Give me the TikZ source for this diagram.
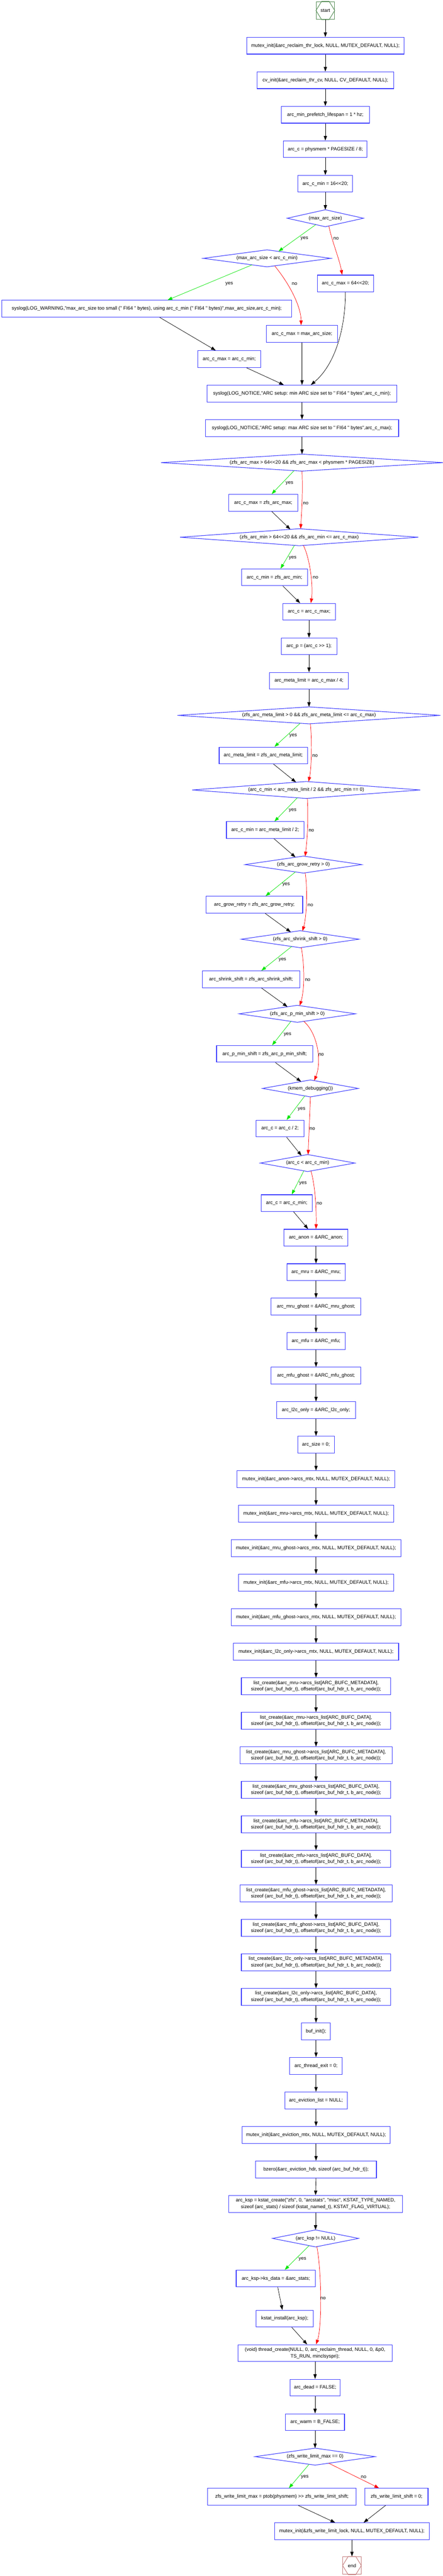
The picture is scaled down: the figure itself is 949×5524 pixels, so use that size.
\documentclass[tikz,border=0pt]{standalone}
\usepackage{fontspec}
\setmainfont{Liberation Sans}[Ligatures=TeXOff]
\usetikzlibrary{calc,arrows.meta}
\definecolor{boxblue}{RGB}{60,60,255}
\definecolor{yesgreen}{RGB}{0,230,0}
\definecolor{nored}{RGB}{255,0,0}
\definecolor{startgreen}{RGB}{85,140,85}
\definecolor{endrose}{RGB}{195,125,125}
\newcommand\gvfont{\fontsize{10.4}{14}\selectfont}
\tikzset{
  box/.style={draw=boxblue, line width=1.2pt, minimum height=36pt, inner xsep=8pt, inner ysep=2pt, font=\gvfont, align=center},
  dnode/.style={minimum height=36pt, inner sep=0pt, font=\gvfont},
  dborder/.style={draw=boxblue, line width=1.2pt},
  conn/.style={-{Triangle[length=10pt,width=7pt]}, line width=0.8pt, black},
  yesedge/.style={conn, yesgreen},
  noedge/.style={conn, nored},
  elab/.style={font=\gvfont, inner sep=0pt},
  termbox/.style={line width=1.1pt, minimum width=39pt, minimum height=38pt, inner sep=0pt, font=\gvfont},
}
\begin{document}
\begin{tikzpicture}[x=1pt, y=-1pt]
\fill[white] (0,0) rectangle (949,5524);
\useasboundingbox (0,0) rectangle (949,5524);

% ---------- nodes ----------
\node[termbox, draw=startgreen] (n0) at (697,22.5) {start};
\node[box, minimum width=337pt] (n1) at (697,98) {mutex\_init(\&arc\_reclaim\_thr\_lock, NULL, MUTEX\_DEFAULT, NULL);};
\node[box, minimum width=293pt] (n2) at (697,172) {cv\_init(\&arc\_reclaim\_thr\_cv, NULL, CV\_DEFAULT, NULL);};
\node[box, minimum width=189pt] (n3) at (697,246) {arc\_min\_prefetch\_lifespan = 1 * hz;};
\node[box, minimum width=179pt] (n4) at (697,320) {arc\_c = physmem * PAGESIZE / 8;};
\node[box, minimum width=117pt] (n5) at (697,394) {arc\_c\_min = 16<<20;};
\node[dnode, minimum width=163pt] (d1) at (697,468) {(max\_arc\_size)};
\node[dnode, minimum width=273pt] (d2) at (572,554) {(max\_arc\_size < arc\_c\_min)};
\node[box, minimum width=121pt] (n6) at (740,608) {arc\_c\_max = 64<<20;};
\node[box, minimum width=621pt] (n7) at (314.5,662) {syslog(LOG\_WARNING,"max\_arc\_size too small (" FI64 " bytes), using arc\_c\_min (" FI64 " bytes)",max\_arc\_size,arc\_c\_min);};
\node[box, minimum width=153pt] (n8) at (647,716) {arc\_c\_max = max\_arc\_size;};
\node[box, minimum width=134pt] (n9) at (491,770) {arc\_c\_max = arc\_c\_min;};
\node[box, minimum width=406pt] (n10) at (647,844) {syslog(LOG\_NOTICE,"ARC setup: min ARC size set to " FI64 " bytes",arc\_c\_min);};
\node[box, minimum width=414pt] (n11) at (647,918) {syslog(LOG\_NOTICE,"ARC setup: max ARC size set to " FI64 " bytes",arc\_c\_max);};
\node[dnode, minimum width=604pt] (d3) at (647,992) {(zfs\_arc\_max > 64<<20 \&\& zfs\_arc\_max < physmem * PAGESIZE)};
\node[box, minimum width=149pt] (n12) at (564,1078) {arc\_c\_max = zfs\_arc\_max;};
\node[dnode, minimum width=510pt] (d4) at (641,1152) {(zfs\_arc\_min > 64<<20 \&\& zfs\_arc\_min <= arc\_c\_max)};
\node[box, minimum width=141pt] (n13) at (588,1238) {arc\_c\_min = zfs\_arc\_min;};
\node[box, minimum width=113pt] (n14) at (662,1312) {arc\_c = arc\_c\_max;};
\node[box, minimum width=119pt] (n15) at (662,1386) {arc\_p = (arc\_c >> 1);};
\node[box, minimum width=169pt] (n16) at (662,1460) {arc\_meta\_limit = arc\_c\_max / 4;};
\node[dnode, minimum width=563pt] (d5) at (662,1534) {(zfs\_arc\_meta\_limit > 0 \&\& zfs\_arc\_meta\_limit <= arc\_c\_max)};
\node[box, minimum width=189pt] (n17) at (564,1620) {arc\_meta\_limit = zfs\_arc\_meta\_limit;};
\node[dnode, minimum width=488pt] (d6) at (656,1694) {(arc\_c\_min < arc\_meta\_limit / 2 \&\& zfs\_arc\_min == 0)};
\node[box, minimum width=166pt] (n18) at (568,1780) {arc\_c\_min = arc\_meta\_limit / 2;};
\node[dnode, minimum width=250pt] (d7) at (650,1854) {(zfs\_arc\_grow\_retry > 0)};
\node[box, minimum width=207pt] (n19) at (545,1940) {arc\_grow\_retry = zfs\_arc\_grow\_retry;};
\node[dnode, minimum width=252pt] (d8) at (643,2014) {(zfs\_arc\_shrink\_shift > 0)};
\node[box, minimum width=209pt] (n20) at (538,2100) {arc\_shrink\_shift = zfs\_arc\_shrink\_shift;};
\node[dnode, minimum width=249pt] (d9) at (637,2174) {(zfs\_arc\_p\_min\_shift > 0)};
\node[box, minimum width=206pt] (n21) at (567,2260) {arc\_p\_min\_shift = zfs\_arc\_p\_min\_shift;};
\node[dnode, minimum width=205pt] (d10) at (665,2334) {(kmem\_debugging())};
\node[box, minimum width=102pt] (n22) at (600,2420) {arc\_c = arc\_c / 2;};
\node[dnode, minimum width=202pt] (d11) at (659,2494) {(arc\_c < arc\_c\_min)};
\node[box, minimum width=109pt] (n23) at (614,2580) {arc\_c = arc\_c\_min;};
\node[box, minimum width=137pt] (n24) at (677,2654) {arc\_anon = \&ARC\_anon;};
\node[box, minimum width=125pt] (n25) at (677,2728) {arc\_mru = \&ARC\_mru;};
\node[box, minimum width=192pt] (n26) at (677,2802) {arc\_mru\_ghost = \&ARC\_mru\_ghost;};
\node[box, minimum width=125pt] (n27) at (677,2876) {arc\_mfu = \&ARC\_mfu;};
\node[box, minimum width=192pt] (n28) at (677,2950) {arc\_mfu\_ghost = \&ARC\_mfu\_ghost;};
\node[box, minimum width=169pt] (n29) at (677,3024) {arc\_l2c\_only = \&ARC\_l2c\_only;};
\node[box, minimum width=78pt] (n30) at (677,3098) {arc\_size = 0;};
\node[box, minimum width=338pt] (n31) at (677,3172) {mutex\_init(\&arc\_anon->arcs\_mtx, NULL, MUTEX\_DEFAULT, NULL);};
\node[box, minimum width=332pt] (n32) at (677,3246) {mutex\_init(\&arc\_mru->arcs\_mtx, NULL, MUTEX\_DEFAULT, NULL);};
\node[box, minimum width=364pt] (n33) at (677,3320) {mutex\_init(\&arc\_mru\_ghost->arcs\_mtx, NULL, MUTEX\_DEFAULT, NULL);};
\node[box, minimum width=332pt] (n34) at (677,3394) {mutex\_init(\&arc\_mfu->arcs\_mtx, NULL, MUTEX\_DEFAULT, NULL);};
\node[box, minimum width=364pt] (n35) at (677,3468) {mutex\_init(\&arc\_mfu\_ghost->arcs\_mtx, NULL, MUTEX\_DEFAULT, NULL);};
\node[box, minimum width=354pt] (n36) at (677,3542) {mutex\_init(\&arc\_l2c\_only->arcs\_mtx, NULL, MUTEX\_DEFAULT, NULL);};
\node[box, minimum width=320pt] (n37) at (677,3616) {list\_create(\&arc\_mru->arcs\_list[ARC\_BUFC\_METADATA],\\sizeof (arc\_buf\_hdr\_t), offsetof(arc\_buf\_hdr\_t, b\_arc\_node));};
\node[box, minimum width=320pt] (n38) at (677,3690) {list\_create(\&arc\_mru->arcs\_list[ARC\_BUFC\_DATA],\\sizeof (arc\_buf\_hdr\_t), offsetof(arc\_buf\_hdr\_t, b\_arc\_node));};
\node[box, minimum width=326pt] (n39) at (677,3764) {list\_create(\&arc\_mru\_ghost->arcs\_list[ARC\_BUFC\_METADATA],\\sizeof (arc\_buf\_hdr\_t), offsetof(arc\_buf\_hdr\_t, b\_arc\_node));};
\node[box, minimum width=320pt] (n40) at (677,3838) {list\_create(\&arc\_mru\_ghost->arcs\_list[ARC\_BUFC\_DATA],\\sizeof (arc\_buf\_hdr\_t), offsetof(arc\_buf\_hdr\_t, b\_arc\_node));};
\node[box, minimum width=320pt] (n41) at (677,3912) {list\_create(\&arc\_mfu->arcs\_list[ARC\_BUFC\_METADATA],\\sizeof (arc\_buf\_hdr\_t), offsetof(arc\_buf\_hdr\_t, b\_arc\_node));};
\node[box, minimum width=320pt] (n42) at (677,3986) {list\_create(\&arc\_mfu->arcs\_list[ARC\_BUFC\_DATA],\\sizeof (arc\_buf\_hdr\_t), offsetof(arc\_buf\_hdr\_t, b\_arc\_node));};
\node[box, minimum width=326pt] (n43) at (677,4060) {list\_create(\&arc\_mfu\_ghost->arcs\_list[ARC\_BUFC\_METADATA],\\sizeof (arc\_buf\_hdr\_t), offsetof(arc\_buf\_hdr\_t, b\_arc\_node));};
\node[box, minimum width=320pt] (n44) at (677,4134) {list\_create(\&arc\_mfu\_ghost->arcs\_list[ARC\_BUFC\_DATA],\\sizeof (arc\_buf\_hdr\_t), offsetof(arc\_buf\_hdr\_t, b\_arc\_node));};
\node[box, minimum width=320pt] (n45) at (677,4208) {list\_create(\&arc\_l2c\_only->arcs\_list[ARC\_BUFC\_METADATA],\\sizeof (arc\_buf\_hdr\_t), offsetof(arc\_buf\_hdr\_t, b\_arc\_node));};
\node[box, minimum width=320pt] (n46) at (677,4282) {list\_create(\&arc\_l2c\_only->arcs\_list[ARC\_BUFC\_DATA],\\sizeof (arc\_buf\_hdr\_t), offsetof(arc\_buf\_hdr\_t, b\_arc\_node));};
\node[box, minimum width=62pt] (n47) at (677,4356) {buf\_init();};
\node[box, minimum width=113pt] (n48) at (677,4430) {arc\_thread\_exit = 0;};
\node[box, minimum width=134pt] (n49) at (677,4504) {arc\_eviction\_list = NULL;};
\node[box, minimum width=317pt] (n50) at (677,4578) {mutex\_init(\&arc\_eviction\_mtx, NULL, MUTEX\_DEFAULT, NULL);};
\node[box, minimum width=259pt] (n51) at (677,4652) {bzero(\&arc\_eviction\_hdr, sizeof (arc\_buf\_hdr\_t));};
\node[box, minimum width=373pt] (n52) at (676,4726) {arc\_ksp = kstat\_create("zfs", 0, "arcstats", "misc", KSTAT\_TYPE\_NAMED,\\sizeof (arc\_stats) / sizeof (kstat\_named\_t), KSTAT\_FLAG\_VIRTUAL);};
\node[dnode, minimum width=184pt] (d12) at (676,4800) {(arc\_ksp != NULL)};
\node[box, minimum width=170pt] (n53) at (591,4886) {arc\_ksp->ks\_data = \&arc\_stats;};
\node[box, minimum width=123pt] (n54) at (610,4972) {kstat\_install(arc\_ksp);};
\node[box, minimum width=330pt] (n55) at (675,5046) {(void) thread\_create(NULL, 0, arc\_reclaim\_thread, NULL, 0, \&p0,\\TS\_RUN, minclsyspri);};
\node[box, minimum width=108pt] (n56) at (675,5120) {arc\_dead = FALSE;};
\node[box, minimum width=126pt] (n57) at (675,5194) {arc\_warm = B\_FALSE;};
\node[dnode, minimum width=257pt] (d13) at (675,5268) {(zfs\_write\_limit\_max == 0)};
\node[box, minimum width=318pt] (n58) at (604,5354) {zfs\_write\_limit\_max = ptob(physmem) >> zfs\_write\_limit\_shift;};
\node[box, minimum width=135pt] (n59) at (849.5,5354) {zfs\_write\_limit\_shift = 0;};
\node[box, minimum width=331pt] (n60) at (754,5428) {mutex\_init(\&zfs\_write\_limit\_lock, NULL, MUTEX\_DEFAULT, NULL);};
\node[termbox, draw=endrose] (n61) at (754,5501.5) {end};

% hexagon marks of the terminal nodes
\draw[startgreen, line width=1.1pt] ($(n0.north west)+(12,0)$) -- ($(n0.north east)+(-12,0)$) -- (n0.east) -- ($(n0.south east)+(-12,0)$) -- ($(n0.south west)+(12,0)$) -- (n0.west) -- cycle;
\draw[endrose, line width=1.1pt] ($(n61.north west)+(12,0)$) -- ($(n61.north east)+(-12,0)$) -- (n61.east) -- ($(n61.south east)+(-12,0)$) -- ($(n61.south west)+(12,0)$) -- (n61.west) -- cycle;

% diamonds
\foreach \d in {d1,d2,d3,d4,d5,d6,d7,d8,d9,d10,d11,d12,d13}
  \draw[dborder] (\d.north) -- (\d.east) -- (\d.south) -- (\d.west) -- cycle;

% ---------- straight connectors ----------
\draw[conn] (n0) -- (n1);
\draw[conn] (n1) -- (n2);
\draw[conn] (n2) -- (n3);
\draw[conn] (n3) -- (n4);
\draw[conn] (n4) -- (n5);
\draw[conn] (n5) -- (d1.north);
\draw[conn] (n8) -- (n10);
\draw[conn] (n10) -- (n11);
\draw[conn] (n11) -- (d3.north);
\draw[conn] (n14) -- (n15);
\draw[conn] (n15) -- (n16);
\draw[conn] (n16) -- (d5.north);
\foreach \a/\b in {n24/n25,n25/n26,n26/n27,n27/n28,n28/n29,n29/n30,n30/n31,n31/n32,n32/n33,n33/n34,n34/n35,n35/n36,n36/n37,n37/n38,n38/n39,n39/n40,n40/n41,n41/n42,n42/n43,n43/n44,n44/n45,n45/n46,n46/n47,n47/n48,n48/n49,n49/n50,n50/n51,n51/n52,n55/n56,n56/n57}
  \draw[conn] (\a.south) -- (\b.north);
\draw[conn] (n52.south) -- (d12.north);
\draw[conn] (n57.south) -- (d13.north);
\draw[conn] (n60.south) -- (n61.north);

% ---------- branch connectors ----------
\draw[yesedge] ($(d1.south)!0.25!(d1.west)$) -- ($(d2.north)!0.18!(d2.east)$);
\draw[noedge] ($(d1.south)!0.09!(d1.east)$) .. controls (712,520) and (727,555) .. ($(n6.north)+(-7,0)$);
\draw[yesedge] ($(d2.south)!0.234!(d2.west)$) -- ($(n7.north)+(44.5,0)$);
\draw[noedge] ($(d2.south)!0.12!(d2.east)$) .. controls (624,614) and (645,660) .. ($(n8.north)+(-2,0)$);
\draw[conn] ($(n7.south)+(27.5,0)$) -- ($(n9.north)+(-29,0)$);
\draw[conn] ($(n9.south)+(37,0)$) -- ($(n10.north)+(-39,0)$);
\draw[conn] (n6.south) .. controls (740,700) and (720,780) .. ($(n10.north)+(19,0)$);

\draw[yesedge] ($(d3.south)!0.056!(d3.west)$) -- ($(n12.north)+(18,0)$);
\draw[noedge] (d3.south) .. controls (649,1060) and (646,1100) .. ($(d4.north)!0.012!(d4.east)$);
\draw[conn] ($(n12.south)+(18,0)$) -- ($(d4.north)!0.075!(d4.west)$);
\draw[yesedge] ($(d4.south)!0.04!(d4.west)$) -- ($(n13.north)+(13,0)$);
\draw[noedge] ($(d4.south)!0.035!(d4.east)$) .. controls (665,1200) and (671,1260) .. ($(n14.north)+(4,0)$);
\draw[conn] ($(n13.south)+(18,0)$) -- ($(n14.north)+(-19,0)$);

\draw[yesedge] ($(d5.south)!0.067!(d5.west)$) -- ($(n17.north)+(24,0)$);
\draw[noedge] ($(d5.south)!0.01!(d5.east)$) .. controls (669,1590) and (667,1650) .. ($(d6.north)!0.02!(d6.east)$);
\draw[conn] ($(n17.south)+(22,0)$) -- ($(d6.north)!0.09!(d6.west)$);
\draw[yesedge] ($(d6.south)!0.078!(d6.west)$) -- ($(n18.north)+(20,0)$);
\draw[noedge] ($(d6.south)!0.01!(d6.east)$) .. controls (661,1760) and (658,1800) .. ($(d7.north)!0.03!(d7.east)$);
\draw[conn] ($(n18.south)+(19,0)$) -- ($(d7.north)!0.136!(d7.west)$);

\draw[yesedge] ($(d7.south)!0.136!(d7.west)$) -- ($(n19.north)+(24,0)$);
\draw[noedge] ($(d7.south)!0.03!(d7.east)$) .. controls (659,1905) and (657,1965) .. ($(d8.north)!0.04!(d8.east)$);
\draw[conn] ($(n19.south)+(23,0)$) -- ($(d8.north)!0.16!(d8.west)$);
\draw[yesedge] ($(d8.south)!0.143!(d8.west)$) -- ($(n20.north)+(22,0)$);
\draw[noedge] ($(d8.south)!0.02!(d8.east)$) .. controls (653,2075) and (652,2125) .. ($(d9.north)!0.04!(d9.east)$);
\draw[conn] ($(n20.south)+(22,0)$) -- ($(d9.north)!0.17!(d9.west)$);
\draw[yesedge] ($(d9.south)!0.11!(d9.west)$) -- ($(n21.north)+(16,0)$);
\draw[noedge] ($(d9.south)!0.11!(d9.east)$) .. controls (680,2215) and (690,2275) .. ($(d10.north)!0.08!(d10.east)$);
\draw[conn] ($(n21.south)+(23,0)$) -- ($(d10.north)!0.195!(d10.west)$);
\draw[yesedge] ($(d10.south)!0.117!(d10.west)$) -- ($(n22.north)+(14,0)$);
\draw[noedge] (d10.south) -- ($(d11.north)!0.01!(d11.east)$);
\draw[conn] ($(n22.south)+(14,0)$) -- ($(d11.north)!0.13!(d11.west)$);
\draw[yesedge] ($(d11.south)!0.08!(d11.west)$) -- ($(n23.north)+(11,0)$);
\draw[noedge] ($(d11.south)!0.07!(d11.east)$) .. controls (676,2545) and (678,2600) .. (n24.north);
\draw[conn] ($(n23.south)+(15,0)$) -- ($(n24.north)+(-17,0)$);

\draw[yesedge] ($(d12.south)!0.15!(d12.west)$) -- ($(n53.north)+(19,0)$);
\draw[noedge] ($(d12.south)!0.03!(d12.east)$) .. controls (689,4870) and (690,4990) .. ($(n55.north)+(2,0)$);
\draw[conn] ($(n53.south)+(4,0)$) -- ($(n54.north)+(-5,0)$);
\draw[conn] ($(n54.south)+(15,0)$) -- ($(n55.north)+(-17,0)$);

\draw[yesedge] ($(d13.south)!0.1!(d13.west)$) -- ($(n58.north)+(15,0)$);
\draw[noedge] ($(d13.south)!0.226!(d13.east)$) -- ($(n59.north)+(-37.5,0)$);
\draw[conn] ($(n58.south)+(35,0)$) -- ($(n60.north)+(-36,0)$);
\draw[conn] ($(n59.south)+(-23.5,0)$) -- ($(n60.north)+(25,0)$);

% ---------- edge labels ----------
\node[elab] (l1) at (652,512) {yes};
\node[elab] (l2) at (720,512) {no};
\node[elab] (l3) at (491,609) {yes};
\node[elab] (l4) at (631,609) {no};
\node[elab] (l5) at (620,1036) {yes};
\node[elab] (l6) at (655,1079) {no};
\node[elab] (l7) at (627,1196) {yes};
\node[elab] (l8) at (676,1239) {no};
\node[elab] (l9) at (628,1578) {yes};
\node[elab] (l10) at (675,1621) {no};
\node[elab] (l11) at (627,1738) {yes};
\node[elab] (l12) at (667,1781) {no};
\node[elab] (l13) at (613,1897) {yes};
\node[elab] (l14) at (665,1941) {no};
\node[elab] (l15) at (605,2058) {yes};
\node[elab] (l16) at (659,2101) {no};
\node[elab] (l17) at (616,2218) {yes};
\node[elab] (l18) at (688,2261) {no};
\node[elab] (l19) at (646,2378) {yes};
\node[elab] (l20) at (669,2421) {no};
\node[elab] (l21) at (649,2538) {yes};
\node[elab] (l22) at (684,2581) {no};
\node[elab] (l23) at (648,4844) {yes};
\node[elab] (l24) at (692,4929) {no};
\node[elab] (l25) at (653,5312) {yes};
\node[elab] (l26) at (779,5312) {no};
\end{tikzpicture}
\end{document}
